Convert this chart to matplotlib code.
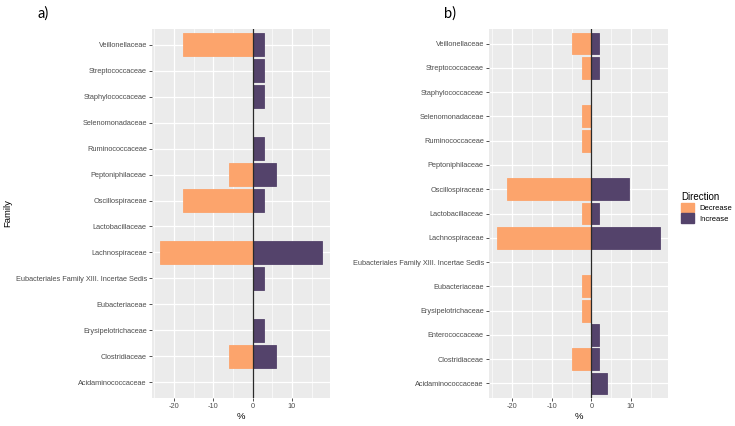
import numpy as np
import matplotlib.pyplot as plt
from matplotlib.patches import Patch

# ---------- data ---------- #
families_a = ["Acidaminococcaceae", "Clostridiaceae", "Erysipelotrichaceae",
              "Eubacteriaceae", "Eubacteriales Family XIII. Incertae Sedis",
              "Lachnospiraceae", "Lactobacillaceae", "Oscillospiraceae",
              "Peptoniphilaceae", "Ruminococcaceae", "Selenomonadaceae",
              "Staphylococcaceae", "Streptococcaceae", "Veillonellaceae"]
decrease_a = [0, -5.9, 0, 0, 0, -23.5, 0, -17.6, -5.9, 0, 0, 0, 0, -17.6]
increase_a = [0, 5.9, 2.9, 0, 2.9, 17.6, 0, 2.9, 5.9, 2.9, 0, 2.9, 2.9, 2.9]

families_b = ["Acidaminococcaceae", "Clostridiaceae", "Enterococcaceae",
              "Erysipelotrichaceae", "Eubacteriaceae",
              "Eubacteriales Family XIII. Incertae Sedis", "Lachnospiraceae",
              "Lactobacillaceae", "Oscillospiraceae", "Peptoniphilaceae",
              "Ruminococcaceae", "Selenomonadaceae", "Staphylococcaceae",
              "Streptococcaceae", "Veillonellaceae"]
decrease_b = [0, -4.8, 0, -2.4, -2.4, 0, -23.8, -2.4, -21.4, 0, -2.4, -2.4, 0, -2.4, -4.8]
increase_b = [3.9, 1.9, 1.9, 0, 0, 0, 17.3, 1.9, 9.6, 0, 0, 0, 0, 1.9, 1.9]

x_ticks = [-20, -10, 0, 10]
x_minor = [-25, -15, -5, 5, 15]

DEC = "#FCA46C"
INC = "#54436B"
FONT = "Liberation Sans"

fig = plt.figure(figsize=(7.35, 4.26), dpi=100)
W, H = 735, 426


def panel(x0, x1, y0, y1, families, dec, inc):
    ax = fig.add_axes([x0 / W, 1 - y1 / H, (x1 - x0) / W, (y1 - y0) / H])
    ax.set_facecolor("#EBEBEB")
    y = np.arange(len(families))
    ax.barh(y, dec, height=0.9, color=DEC, edgecolor=DEC, linewidth=0.6, zorder=2)
    ax.barh(y, inc, height=0.9, color=INC, edgecolor=INC, linewidth=0.6, zorder=2)
    ax.axvline(0, color="#2a2a2a", linewidth=0.9, zorder=3)

    lo, hi = min(dec), max(inc)
    pad = 0.05 * (hi - lo)
    ax.set_xlim(lo - pad, hi + pad)
    ax.set_ylim(-0.6, len(families) - 0.4)

    ax.set_xticks(x_ticks)
    ax.set_xticklabels([str(t) for t in x_ticks])
    ax.set_xticks(x_minor, minor=True)
    ax.set_yticks(y)
    ax.set_yticklabels(families)
    ax.grid(which="major", color="white", linewidth=0.9, zorder=0)
    ax.grid(which="minor", axis="x", color="white", linewidth=0.45, zorder=0)
    ax.set_axisbelow(True)
    ax.tick_params(which="major", length=2.2, width=0.6, color="#333333",
                   labelsize=5.3, labelcolor="#4D4D4D", pad=1.5)
    ax.tick_params(which="minor", length=0)
    for lab in ax.get_xticklabels() + ax.get_yticklabels():
        lab.set_family(FONT)
    for s in ax.spines.values():
        s.set_visible(False)
    ax.set_xlabel("%", fontsize=6.8, family=FONT, labelpad=1)
    return ax


ax_a = panel(152, 330, 29, 398, families_a, decrease_a, increase_a)
ax_b = panel(489, 668, 29, 398, families_b, decrease_b, increase_b)

fig.text(8 / W, 1 - 213 / H, "Family", rotation=90, fontsize=6.8, family=FONT,
         ha="center", va="center")
fig.text(43 / W, 1 - 14 / H, "a)", fontsize=10.5, family="Lato", ha="center", va="center")
fig.text(450 / W, 1 - 14 / H, "b)", fontsize=10.5, family="Lato", ha="center", va="center")

handles = [Patch(facecolor=DEC, edgecolor=DEC, label="Decrease"),
           Patch(facecolor=INC, edgecolor=INC, label="Increase")]
leg = fig.legend(handles=handles, title="Direction", loc="upper left",
                 bbox_to_anchor=(681 / W, 1 - 192 / H), frameon=False,
                 prop={"family": FONT, "size": 5.5}, handlelength=1.75,
                 handleheight=1.55, handletextpad=0.6, labelspacing=0.12,
                 borderaxespad=0, borderpad=0)
leg.get_title().set_fontsize(7)
leg.get_title().set_family(FONT)
leg._legend_box.align = "left"

fig.savefig("out.png", dpi=100)
